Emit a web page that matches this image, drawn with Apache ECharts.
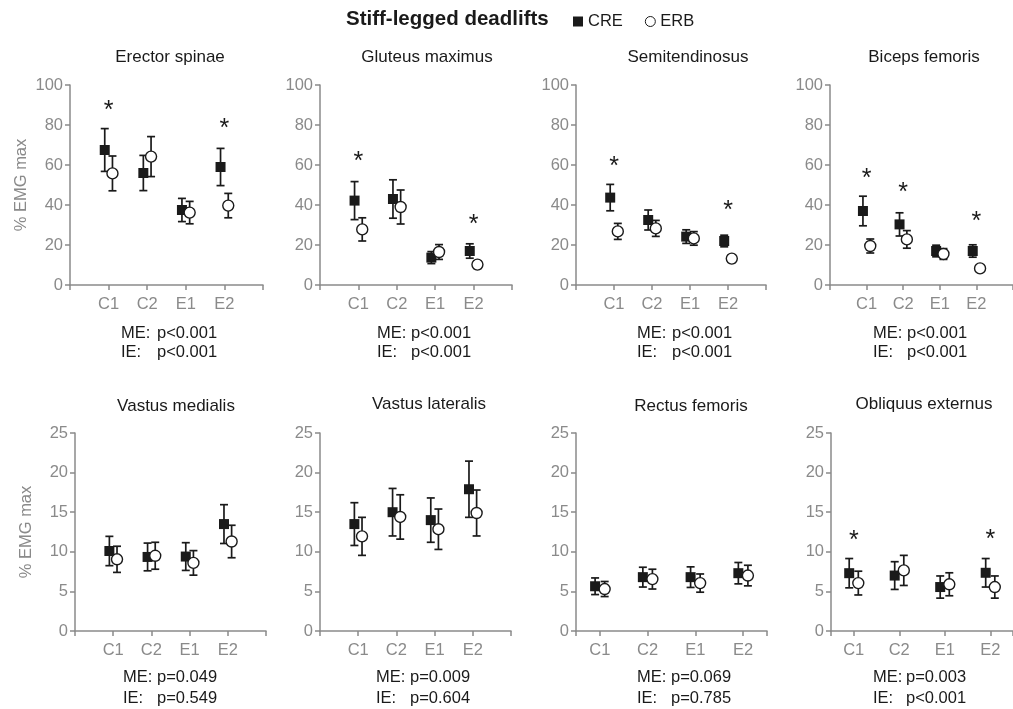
<!DOCTYPE html>
<html><head><meta charset="utf-8">
<script src="https://cdn.jsdelivr.net/npm/echarts@6/dist/echarts.min.js"></script>
<style>html,body{margin:0;padding:0;background:#fff}#c{width:1013px;height:709px}</style>
</head><body><div id="c"></div>
<script>
// ---------- data ----------
const categories = ['C1', 'C2', 'E1', 'E2'];
const muscles = ['Erector spinae', 'Gluteus maximus', 'Semitendinosus', 'Biceps femoris',
  'Vastus medialis', 'Vastus lateralis', 'Rectus femoris', 'Obliquus externus'];
const yMaxByPanel = [100, 100, 100, 100, 25, 25, 25, 25];
const yStepByPanel = [20, 20, 20, 20, 5, 5, 5, 5];

const creMean = [
  [67.5, 56, 37.5, 59], [42.2, 43, 13.7, 17], [43.7, 32.5, 24.2, 22], [37, 30.3, 17, 17],
  [10.1, 9.35, 9.4, 13.5], [13.5, 15, 14, 17.9], [5.65, 6.8, 6.8, 7.3], [7.3, 7.0, 5.55, 7.35]
];
const creSD = [
  [10.7, 8.8, 5.8, 9.3], [9.5, 9.6, 3, 3.6], [6.6, 5, 3.4, 2.9], [7.4, 5.8, 2.9, 3.1],
  [1.85, 1.75, 1.75, 2.45], [2.7, 3, 2.8, 3.55], [1.05, 1.25, 1.3, 1.35], [1.85, 1.75, 1.4, 1.8]
];
const erbMean = [
  [55.8, 64.2, 36.2, 39.7], [27.8, 39, 16.5, 10.2], [26.8, 28.3, 23.3, 13.2], [19.5, 22.8, 15.5, 8.3],
  [9.05, 9.5, 8.6, 11.3], [11.95, 14.4, 12.85, 14.9], [5.3, 6.55, 6.05, 7.0], [6.05, 7.65, 5.9, 5.55]
];
const erbSD = [
  [8.7, 10, 5.6, 6.1], [5.8, 8.5, 3.7, 1.9], [4, 4, 3.4, 1.9], [3.5, 4.4, 2.7, 1.5],
  [1.65, 1.7, 1.55, 2.05], [2.4, 2.8, 2.55, 2.9], [0.95, 1.25, 1.15, 1.3], [1.5, 1.9, 1.45, 1.4]
];
// asterisk heights (null = no asterisk)
const asterisks = [
  [90, null, null, 81], [64.5, null, null, 33], [61.7, null, null, 39.7], [55.8, 48.7, null, 34.2],
  [null, null, null, null], [null, null, null, null], [null, null, null, null], [12.1, null, null, 12.2]
];
const meP = ['p<0.001', 'p<0.001', 'p<0.001', 'p<0.001', 'p=0.049', 'p=0.009', 'p=0.069', 'p=0.003'];
const ieP = ['p<0.001', 'p<0.001', 'p<0.001', 'p<0.001', 'p=0.549', 'p=0.604', 'p=0.785', 'p<0.001'];

// ---------- layout ----------
const FONT = '"Liberation Sans", Arial, sans-serif';
const GRAY = '#8a8a8a';
const DARK = '#1a1a1a';
const grids = [
  {left: 70, top: 85, width: 193, height: 200, xmin: 0, xmax: 5},
  {left: 320, top: 85, width: 192, height: 200, xmin: 0, xmax: 5},
  {left: 576, top: 85, width: 190, height: 200, xmin: 0, xmax: 5},
  {left: 830, top: 85, width: 193, height: 200, xmin: 0, xmax: 5},
  {left: 75, top: 433, width: 191, height: 198, xmin: 0, xmax: 5},
  {left: 320, top: 433, width: 191, height: 198, xmin: 0, xmax: 5},
  {left: 576, top: 433, width: 191, height: 198, xmin: 0.5, xmax: 4.5},
  {left: 831, top: 433, width: 191, height: 198, xmin: 0.5, xmax: 4.5}
];
const titlePos = [[165, 44], [422, 44], [683, 44], [919, 44], [171, 393], [424, 391], [686, 393], [919, 391]];
const notePos = [[121, 157, 333, 352], [377, 411, 333, 352], [637, 672, 333, 352], [873, 907, 333, 352],
  [123, 157, 677, 698], [376, 410, 677, 698], [637, 671, 677, 698], [873, 906, 677, 698]];
const OFF = 0.1;

const chart = echarts.init(document.getElementById('c'), null, {renderer: 'canvas'});

const option = {
  animation: false,
  backgroundColor: '#fff',
  textStyle: {fontFamily: FONT},
  title: [{
    text: 'Stiff-legged deadlifts', left: 341, top: 4,
    textStyle: {fontSize: 20.5, fontWeight: 'bold', color: DARK, fontFamily: FONT}
  }],
  legend: {
    left: 568, top: 8, itemWidth: 10, itemHeight: 10, itemGap: 22,
    textStyle: {fontSize: 16.5, color: DARK, fontFamily: FONT},
    data: [{name: 'CRE', icon: 'rect'}, {name: 'ERB', icon: 'circle', itemStyle: {borderWidth: 1}}]
  },
  grid: [], xAxis: [], yAxis: [], series: [], graphic: []
};

const errRender = function (params, api) {
  const x = api.value(0), m = api.value(1), s = api.value(2);
  const hi = api.coord([x, m + s]), lo = api.coord([x, m - s]);
  const w = 4;
  const st = {stroke: DARK, lineWidth: 1.7};
  return {type: 'group', children: [
    {type: 'line', shape: {x1: hi[0], y1: hi[1], x2: lo[0], y2: lo[1]}, style: st},
    {type: 'line', shape: {x1: hi[0] - w, y1: hi[1], x2: hi[0] + w, y2: hi[1]}, style: st},
    {type: 'line', shape: {x1: lo[0] - w, y1: lo[1], x2: lo[0] + w, y2: lo[1]}, style: st}
  ]};
};
const starRender = function (params, api) {
  const pt = api.coord([api.value(0), api.value(1)]);
  return {type: 'text', x: pt[0], y: pt[1] + 6, style: {
    text: '*', fontSize: 25, fontFamily: FONT, fill: DARK, align: 'center', verticalAlign: 'middle'
  }};
};

muscles.forEach((name, p) => {
  const g = grids[p];
  option.grid.push({left: g.left, top: g.top, width: g.width, height: g.height, containLabel: false});
  const tickVals = [g.xmin, 1, 2, 3, 4, g.xmax];
  option.xAxis.push({
    type: 'value', gridIndex: p, min: g.xmin, max: g.xmax,
    axisLine: {show: true, lineStyle: {color: GRAY, width: 1.5}},
    axisTick: {show: true, length: 5, lineStyle: {color: GRAY, width: 1.5}, customValues: tickVals},
    axisLabel: {show: true, customValues: [1, 2, 3, 4], formatter: v => categories[Math.round(v) - 1] || '',
      color: GRAY, fontSize: 16.5, margin: 11, fontFamily: FONT},
    splitLine: {show: false}
  });
  option.yAxis.push({
    type: 'value', gridIndex: p, min: 0, max: yMaxByPanel[p], interval: yStepByPanel[p],
    name: (p % 4 === 0) ? '% EMG max' : '', nameLocation: 'middle', nameGap: 40,
    nameTextStyle: {color: GRAY, fontSize: 16.5, fontFamily: FONT},
    axisLine: {show: true, lineStyle: {color: GRAY, width: 1.5}},
    axisTick: {show: true, length: 5, lineStyle: {color: GRAY, width: 1.5}},
    axisLabel: {color: GRAY, fontSize: 16.5, margin: 7, fontFamily: FONT},
    splitLine: {show: false}
  });
  option.title.push({
    text: name, left: titlePos[p][0], top: titlePos[p][1], textAlign: 'center',
    textStyle: {fontSize: 17, fontWeight: 'normal', color: DARK, fontFamily: FONT}
  });
  const creData = categories.map((c, i) => [i + 1 - OFF, creMean[p][i], creSD[p][i]]);
  const erbData = categories.map((c, i) => [i + 1 + OFF, erbMean[p][i], erbSD[p][i]]);
  option.series.push({
    type: 'custom', xAxisIndex: p, yAxisIndex: p, renderItem: errRender, data: creData, silent: true, z: 2
  });
  option.series.push({
    name: 'CRE', type: 'scatter', xAxisIndex: p, yAxisIndex: p, symbol: 'rect', symbolSize: 10,
    itemStyle: {color: DARK, opacity: 1}, data: creData.map(d => [d[0], d[1]]), z: 3
  });
  option.series.push({
    type: 'custom', xAxisIndex: p, yAxisIndex: p, renderItem: errRender, data: erbData, silent: true, z: 4
  });
  option.series.push({
    name: 'ERB', type: 'scatter', xAxisIndex: p, yAxisIndex: p, symbol: 'circle', symbolSize: 11,
    itemStyle: {color: '#fff', borderColor: DARK, borderWidth: 1.4, opacity: 1},
    data: erbData.map(d => [d[0], d[1]]), z: 5
  });
  const astData = [];
  asterisks[p].forEach((v, i) => { if (v !== null) astData.push([i + 1, v]); });
  option.series.push({
    type: 'custom', xAxisIndex: p, yAxisIndex: p, renderItem: starRender, silent: true,
    data: astData, z: 6
  });
  const np = notePos[p];
  const ts = {fontSize: 16.5, fill: DARK, fontFamily: FONT};
  option.graphic.push({type: 'text', left: np[0], top: np[2] - 8, style: Object.assign({text: 'ME:'}, ts)});
  option.graphic.push({type: 'text', left: np[1], top: np[2] - 8, style: Object.assign({text: meP[p]}, ts)});
  option.graphic.push({type: 'text', left: np[0], top: np[3] - 8, style: Object.assign({text: 'IE:'}, ts)});
  option.graphic.push({type: 'text', left: np[1], top: np[3] - 8, style: Object.assign({text: ieP[p]}, ts)});
});

chart.setOption(option);
</script>
</body></html>
